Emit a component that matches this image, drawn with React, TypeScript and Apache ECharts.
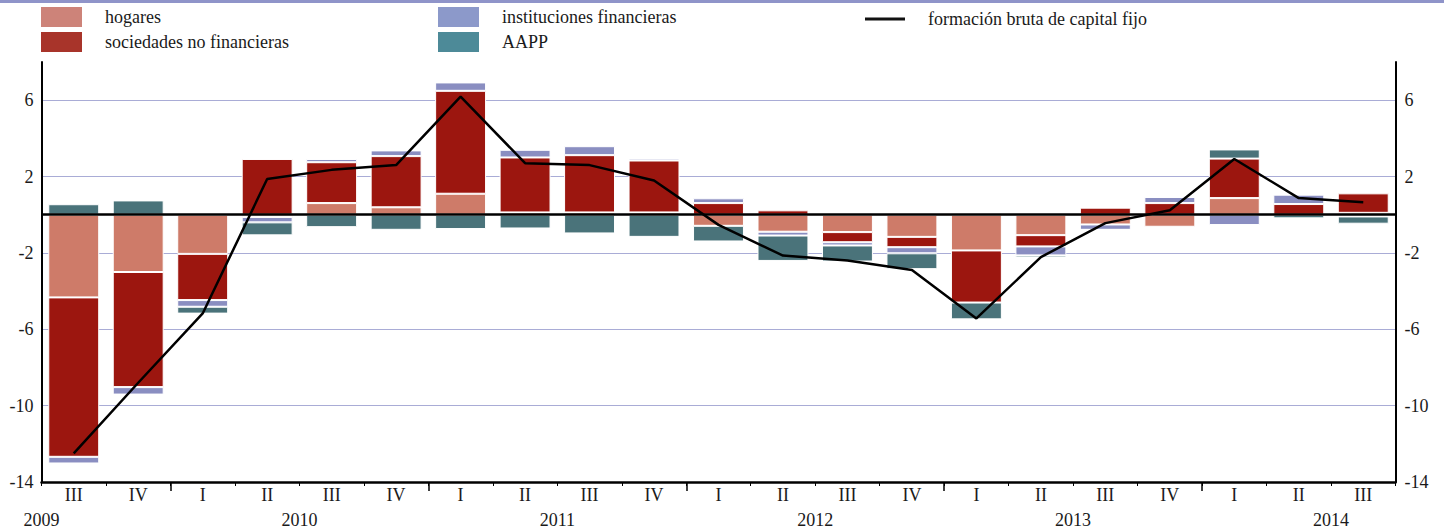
import React, { useEffect, useRef } from "react";
import * as echarts from "echarts";

const quarters = ["III", "IV", "I", "II", "III", "IV", "I", "II", "III", "IV", "I", "II", "III", "IV", "I", "II", "III", "IV", "I", "II", "III"];
const years = ["2009", "2010", "2011", "2012", "2013", "2014"];
const yearLabelPositions = [-0.5, 3.5, 7.5, 11.5, 15.5, 19.5];
const yearBoundaries = [1.5, 5.5, 9.5, 13.5, 17.5];

const hogares = [-4.33, -3.0, -2.05, -0.12, 0.61, 0.39, 1.1, 0.12, 0.12, 0.12, -0.58, -0.89, -0.91, -1.16, -1.87, -1.07, -0.51, -0.63, 0.87, 0, 0.1];
const sociedades = [-8.35, -6.03, -2.42, 2.92, 2.14, 2.68, 5.39, 2.88, 3.0, 2.72, 0.61, 0.23, -0.53, -0.54, -2.73, -0.59, 0.37, 0.61, 2.07, 0.56, 1.02];
const instituciones = [-0.35, -0.39, -0.35, -0.28, 0.17, 0.3, 0.44, 0.4, 0.47, 0.1, 0.25, -0.2, -0.17, -0.32, 0, -0.47, -0.28, 0.32, -0.54, 0.49, -0.09];
const aapp = [0.55, 0.75, -0.36, -0.68, -0.65, -0.79, -0.75, -0.72, -0.98, -1.16, -0.82, -1.33, -0.84, -0.83, -0.88, -0.11, 0, 0, 0.48, -0.19, -0.38];
const fbcf = [-12.5, -8.8, -5.17, 1.87, 2.35, 2.6, 6.19, 2.7, 2.6, 1.79, -0.53, -2.14, -2.4, -2.89, -5.43, -2.22, -0.44, 0.23, 2.92, 0.87, 0.65];

const yTicks = { min: -14, max: 8, interval: 4 };

const FONT = "Liberation Serif";
const TXT = "#1a1a1a";
const FS = 18;

export default function App() {
  const ref = useRef<HTMLDivElement>(null);
  useEffect(() => {
    if (!ref.current) return;
    const chart = echarts.init(ref.current, null, { renderer: "svg" });
    const barBase = {
      type: "bar",
      stack: "total",
      barWidth: "79%",
      itemStyle: { borderColor: "#ffffff", borderWidth: 1 },
      emphasis: { disabled: true },
    };
    const legendText = { fontFamily: FONT, fontSize: FS, color: TXT, padding: [0, 0, 0, 18] };
    const option: any = {
      animation: false,
      backgroundColor: "#ffffff",
      graphic: [
        { type: "rect", left: 0, top: 0, shape: { width: 1444, height: 3 }, style: { fill: "#8f94c9" }, silent: true },
      ],
      legend: [
        {
          left: 41, top: 7, orient: "vertical", itemWidth: 41, itemHeight: 20, itemGap: 5, padding: 0,
          icon: "rect", itemStyle: { borderWidth: 0 }, textStyle: legendText, selectedMode: false,
          data: [
            { name: "hogares", itemStyle: { color: "#cd8379" } },
            { name: "sociedades no financieras", itemStyle: { color: "#a8342a" } },
          ],
        },
        {
          left: 438, top: 7, orient: "vertical", itemWidth: 41, itemHeight: 20, itemGap: 5, padding: 0,
          icon: "rect", itemStyle: { borderWidth: 0 }, textStyle: legendText, selectedMode: false,
          data: [
            { name: "instituciones financieras", itemStyle: { color: "#8c99ca" } },
            { name: "AAPP", itemStyle: { color: "#4d8a98" } },
          ],
        },
        {
          left: 865, top: 10, orient: "horizontal", itemWidth: 40, itemHeight: 3, padding: 0,
          icon: "rect", itemStyle: { borderWidth: 0 }, textStyle: legendText, selectedMode: false,
          data: [{ name: "formación bruta de capital fijo", itemStyle: { color: "#111111" } }],
        },
      ],
      grid: { left: 41.5, right: 48.5, top: 62, bottom: 50, containLabel: false },
      xAxis: [
        {
          type: "category",
          data: quarters,
          boundaryGap: true,
          axisLine: { show: true, onZero: false, lineStyle: { color: "#000", width: 2.5 } },
          axisTick: { show: true, interval: 0, alignWithLabel: false, length: 4, lineStyle: { color: "#000", width: 1 } },
          axisLabel: { interval: 0, margin: 4, fontFamily: FONT, fontSize: FS, color: TXT },
          splitLine: { show: false },
        },
        {
          type: "value",
          position: "bottom",
          min: -0.5,
          max: 20.5,
          axisLine: { show: false, onZero: false },
          axisTick: { show: true, customValues: yearBoundaries, length: 9, lineStyle: { color: "#000", width: 1.5 } },
          axisLabel: {
            show: true,
            customValues: yearLabelPositions,
            margin: 29,
            fontFamily: FONT,
            fontSize: FS,
            color: TXT,
            formatter: (v: number) => {
              const i = yearLabelPositions.findIndex((p) => Math.abs(p - v) < 1e-6);
              return i >= 0 ? years[i] : "";
            },
          },
          splitLine: { show: false },
        },
      ],
      yAxis: [
        {
          type: "value",
          position: "left",
          min: yTicks.min,
          max: yTicks.max,
          interval: yTicks.interval,
          axisLine: { show: true, onZero: false, lineStyle: { color: "#000", width: 2 } },
          axisTick: { show: false },
          axisLabel: { showMaxLabel: false, margin: 8, fontFamily: FONT, fontSize: FS, color: TXT },
          splitLine: { show: true, showMinLine: false, showMaxLine: false, lineStyle: { color: "#a9acd6", width: 1.2 } },
        },
        {
          type: "value",
          position: "right",
          min: yTicks.min,
          max: yTicks.max,
          interval: yTicks.interval,
          axisLine: { show: true, onZero: false, lineStyle: { color: "#000", width: 2 } },
          axisTick: { show: false },
          axisLabel: { showMaxLabel: false, margin: 9, fontFamily: FONT, fontSize: FS, color: TXT },
          splitLine: { show: false },
        },
      ],
      series: [
        { ...barBase, name: "hogares", data: hogares, itemStyle: { ...barBase.itemStyle, color: "#ce7b69" } },
        { ...barBase, name: "sociedades no financieras", data: sociedades, itemStyle: { ...barBase.itemStyle, color: "#9c160f" } },
        { ...barBase, name: "instituciones financieras", data: instituciones, itemStyle: { ...barBase.itemStyle, color: "#8a8ec1" } },
        { ...barBase, name: "AAPP", data: aapp, itemStyle: { ...barBase.itemStyle, color: "#4a737a" } },
        {
          type: "line",
          name: "formación bruta de capital fijo",
          data: fbcf,
          symbol: "none",
          z: 5,
          lineStyle: { color: "#000", width: 2.5 },
          emphasis: { disabled: true },
          markLine: {
            silent: true,
            symbol: "none",
            label: { show: false },
            lineStyle: { color: "#000", width: 2.5, type: "solid" },
            data: [{ yAxis: 0 }],
          },
        },
      ],
    };
    chart.setOption(option);
    return () => chart.dispose();
  }, []);
  return <div ref={ref} style={{ position: "fixed", left: 0, top: 0, width: 1444, height: 532 }} />;
}
